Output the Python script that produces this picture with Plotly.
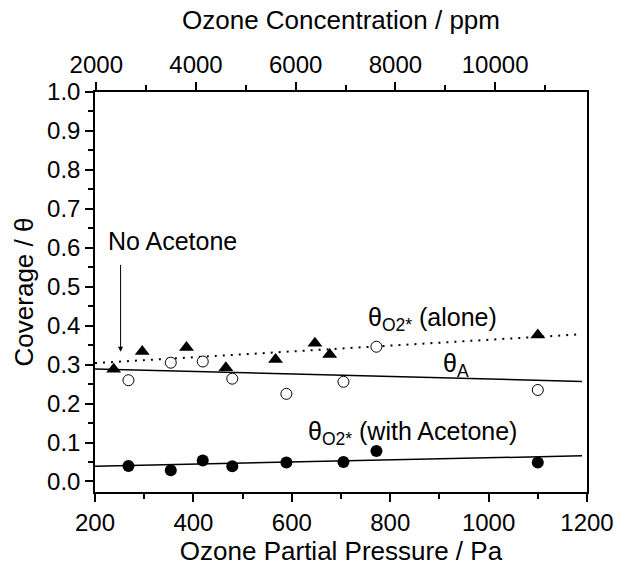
import numpy as np
import plotly.graph_objects as go

# Ozone partial pressure (Pa) for each measurement
p_alone = [238, 296, 386, 466, 567, 647, 677, 1100]
theta_o2_alone = [0.288, 0.334, 0.344, 0.292, 0.313, 0.355, 0.326, 0.376]

p_acetone = [268, 354, 419, 479, 589, 705, 772, 1100]
theta_a = [0.260, 0.305, 0.308, 0.264, 0.225, 0.256, 0.346, 0.235]
theta_o2_acetone = [0.040, 0.029, 0.054, 0.039, 0.049, 0.050, 0.078, 0.049]

# Linear fit lines (end points)
fit_p = [200, 1190]
fit_o2_alone = [0.304, 0.378]
fit_a = [0.289, 0.257]
fit_o2_acetone = [0.039, 0.066]

# Axis settings
p_range = [200, 1200]
y_range = [-0.027, 1.0]
P_ATM = 101325.0
ppm_range = [p * 1e6 / P_ATM for p in p_range]

FONT = "Arial, Liberation Sans, sans-serif"
BLACK = "#000000"
TICK_SIZE = 24
TITLE_SIZE = 26
TEXT_SIZE = 25

fig = go.Figure()

fig.add_trace(go.Scatter(x=fit_p, y=fit_o2_alone, mode="lines",
                         line=dict(color=BLACK, width=2, dash="2px,6px"),
                         showlegend=False, hoverinfo="skip"))
fig.add_trace(go.Scatter(x=fit_p, y=fit_a, mode="lines",
                         line=dict(color=BLACK, width=1.5),
                         showlegend=False, hoverinfo="skip"))
fig.add_trace(go.Scatter(x=fit_p, y=fit_o2_acetone, mode="lines",
                         line=dict(color=BLACK, width=1.5),
                         showlegend=False, hoverinfo="skip"))

fig.add_trace(go.Scatter(x=p_alone, y=theta_o2_alone, mode="markers",
                         marker=dict(symbol="triangle-up", size=13, color=BLACK),
                         showlegend=False))
fig.add_trace(go.Scatter(x=p_acetone, y=theta_a, mode="markers",
                         marker=dict(symbol="circle", size=11, color="white",
                                     line=dict(color=BLACK, width=1)),
                         showlegend=False))
fig.add_trace(go.Scatter(x=p_acetone, y=theta_o2_acetone, mode="markers",
                         marker=dict(symbol="circle", size=12, color=BLACK),
                         showlegend=False))

# Invisible trace carrying the concentration axis
fig.add_trace(go.Scatter(x=ppm_range, y=[None, None], xaxis="x2", mode="markers",
                         marker=dict(opacity=0), showlegend=False, hoverinfo="skip"))

axis_common = dict(
    showline=True, linecolor=BLACK, linewidth=1.5,
    ticks="outside", ticklen=8, tickwidth=1.5, tickcolor=BLACK,
    showgrid=False, zeroline=False,
    tickfont=dict(family=FONT, size=TICK_SIZE, color=BLACK),
)
minor_common = dict(ticklen=5, tickwidth=1.5, tickcolor=BLACK, ticks="outside")

fig.update_layout(
    width=626, height=568,
    margin=dict(l=95, r=29, t=92, b=69),
    paper_bgcolor="white", plot_bgcolor="white",
    font=dict(family=FONT, size=TEXT_SIZE, color=BLACK),
    xaxis=dict(
        range=p_range, dtick=200, tick0=0,
        minor=dict(dtick=100, **minor_common),
        title=dict(text="Ozone Partial Pressure / Pa",
                   font=dict(family=FONT, size=TITLE_SIZE), standoff=2),
        **axis_common,
    ),
    xaxis2=dict(
        range=ppm_range, overlaying="x", side="top", dtick=2000, tick0=0,
        tickformat="d",
        minor=dict(dtick=1000, **minor_common),
        title=dict(text="Ozone Concentration / ppm",
                   font=dict(family=FONT, size=TITLE_SIZE), standoff=14),
        **axis_common,
    ),
    yaxis=dict(
        range=y_range, dtick=0.1, tick0=0, tickformat=".1f", mirror=True,
        minor=dict(dtick=0.05, **minor_common),
        title=dict(text="Coverage / θ", font=dict(family=FONT, size=TITLE_SIZE), standoff=6),
        **axis_common,
    ),
)

# Labels
fig.add_annotation(x=357, y=0.617, text="No Acetone", showarrow=False,
                   font=dict(family=FONT, size=TEXT_SIZE, color=BLACK))
fig.add_annotation(x=252, y=0.333, ax=252, ay=0.56, axref="x", ayref="y",
                   text="", showarrow=True, arrowhead=2, arrowsize=1,
                   arrowwidth=1, arrowcolor=BLACK)
fig.add_annotation(x=750, y=0.418, xanchor="left", yanchor="middle",
                   text="θ<sub>O2*</sub> (alone)", showarrow=False,
                   font=dict(family=FONT, size=TEXT_SIZE, color=BLACK))
fig.add_annotation(x=903, y=0.298, xanchor="left", yanchor="middle",
                   text="θ<sub>A</sub>", showarrow=False,
                   font=dict(family=FONT, size=TEXT_SIZE, color=BLACK))
fig.add_annotation(x=628, y=0.125, xanchor="left", yanchor="middle",
                   text="θ<sub>O2*</sub> (with Acetone)", showarrow=False,
                   font=dict(family=FONT, size=TEXT_SIZE, color=BLACK))

fig.write_html("out.html")
